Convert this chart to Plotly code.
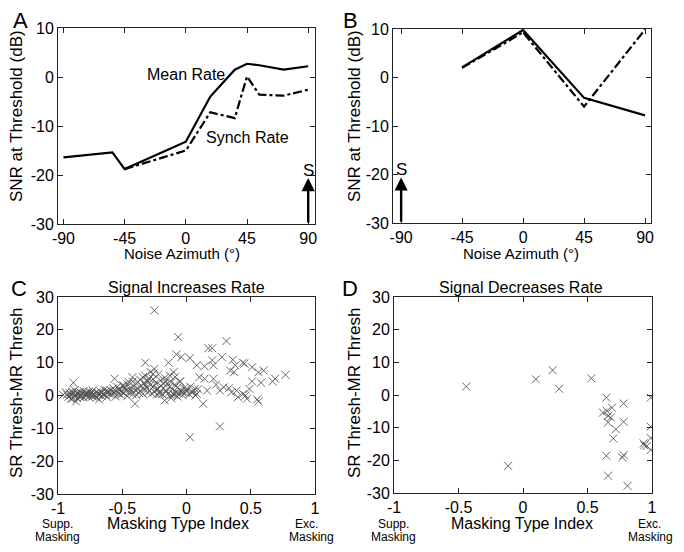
import plotly.graph_objects as go

# The page adds an 8px body margin, so the figure is drawn slightly smaller and
# all pixel positions (measured on the 684x552 reference) are shifted by OFF.
OFF = 8
W, H = 684 - 2 * OFF, 552 - 2 * OFF

# ---------------- Data ----------------
# Panel A (Signal at +90 deg)
a_mr_az = [-90, -54, -45, 0, 18, 36, 45, 54, 72, 90]
a_mr_snr = [-16.4, -15.4, -18.8, -13.2, -4.0, 1.5, 2.7, 2.4, 1.5, 2.2]
a_sr_az = [-45, 0, 18, 36, 45, 54, 72, 90]
a_sr_snr = [-18.8, -15.0, -7.2, -8.4, 0.1, -3.6, -3.8, -2.6]

# Panel B (Signal at -90 deg)
b_mr_az = [-45, 0, 45, 90]
b_mr_snr = [2.1, 9.8, -4.2, -7.8]
b_sr_az = [-45, 0, 45, 90]
b_sr_snr = [2.0, 9.3, -6.0, 9.9]

# Panel C: Signal increases rate (masking type index, SR thresh - MR thresh)
c_mti = [
    -0.93, -0.92, -0.91, -0.90, -0.89, -0.89, -0.88, -0.87, -0.87, -0.86, -0.85, -0.85,
    -0.84, -0.83, -0.83, -0.82, -0.81, -0.80, -0.80, -0.79, -0.78, -0.78, -0.77, -0.76,
    -0.76, -0.75, -0.74, -0.73, -0.73, -0.72, -0.71, -0.70, -0.70, -0.69, -0.68, -0.67,
    -0.66, -0.66, -0.65, -0.64, -0.63, -0.62, -0.62, -0.61, -0.60,
    -0.59, -0.58, -0.57, -0.56, -0.55, -0.55, -0.54, -0.53, -0.52, -0.51, -0.50, -0.50,
    -0.49, -0.48, -0.47, -0.46, -0.46, -0.45, -0.44, -0.43, -0.42, -0.42, -0.41, -0.40,
    -0.39, -0.39, -0.38, -0.37, -0.36, -0.36, -0.35, -0.34, -0.33, -0.33, -0.32, -0.31,
    -0.30, -0.30, -0.29, -0.28, -0.28, -0.27, -0.26, -0.26, -0.25, -0.24, -0.23, -0.23,
    -0.22, -0.21, -0.20, -0.20, -0.19, -0.18, -0.17, -0.16, -0.15, -0.14, -0.13, -0.12,
    -0.12, -0.11, -0.10, -0.09, -0.08, -0.07, -0.07, -0.06, -0.05, -0.04, -0.03, -0.02,
    -0.01, 0.00, 0.02, 0.03, 0.05, 0.07, 0.09,
    -0.25, -0.065, -0.078, -0.04, 0.31, 0.17, 0.20, 0.275, 0.026, -0.32, -0.14, -0.25,
    0.08, 0.14, 0.20, 0.21, 0.36, 0.38, 0.44, 0.45, 0.51, 0.34, 0.37, 0.56,
    0.60, 0.69, 0.77, 0.67, 0.58, 0.51, 0.49, 0.39, 0.44, 0.46, 0.47, 0.40,
    0.55, 0.56, 0.13, 0.26, 0.026, 0.14, 0.21, 0.23, 0.29, 0.33, 0.35, 0.26,
    0.16, 0.10, 0.065, 0.00, -0.03, 0.04, 0.08, -0.05, -0.10, -0.16, -0.21, -0.17,
    -0.12, -0.22, -0.10, -0.13, -0.09, -0.05, -0.16, -0.18, -0.26, -0.29, -0.34, -0.38,
    -0.42, -0.32, -0.40, -0.45, -0.56, -0.49, -0.52, -0.57, -0.62, -0.68, -0.68, -0.73,
    -0.78, -0.83, -0.88, -0.90, -0.86, -0.96, -0.94,
]
c_diff = [
    0.3, -0.4, 0.8, 0.1, 1.2, -1.0, 0.5, -0.3, 1.6, 0.2, -0.8, 0.9,
    0.4, -0.2, 1.1, 0.0, 0.7, -0.6, 1.4, 0.3, -0.1, 0.9, 0.5, -0.4,
    1.2, 0.2, 0.8, -0.3, 1.5, 0.4, 0.0, 1.0, -0.7, 0.6, 0.2, 1.3,
    -0.2, 0.8, 0.4, 1.8, 0.1, 0.9, -0.5, 1.2, 0.5,
    1.6, 0.3, 2.2, 0.8, -0.3, 1.4, 2.6, 0.6, 1.9, 0.2, 1.1, 3.0,
    0.7, 2.3, 1.5, -0.2, 3.4, 0.9, 2.0, 1.2, 4.2, 0.4, 2.8, 1.6,
    0.2, 3.6, 2.1, 0.8, 4.8, 1.4, 2.9, 0.5, 3.9, 1.8, 6.0, 2.4,
    0.9, 4.4, 1.5, 3.2, 7.2, 0.6, 2.6, 5.0, 1.2, 3.8, 0.3, 2.0,
    6.4, 1.0, 3.0, 4.6, 0.4, 2.2, 5.4, 1.4, 3.6, 0.7, 2.7, -0.8,
    4.0, 1.8, 0.2, 3.3, 1.0, -0.3, 2.4, 0.6, 4.2, 1.3, 0.1, 2.2,
    0.8, 1.6, 0.4, 2.7, 1.1, 0.0, 1.9,
    25.9, 17.8, 12.5, 11.7, 16.6, 14.4, 14.4, 11.7, 11.4, 10.0, 10.0, 8.1,
    9.2, 8.9, 10.7, 9.2, 10.9, 9.2, 10.0, 9.7, 8.6, 7.6, 7.1, 7.1,
    7.6, 5.1, 6.3, 4.3, 3.9, 4.3, 2.0, 1.5, 0.5, 0.0, -1.0, -0.5,
    -1.2, -1.8, -2.5, -9.4, -12.7, 5.1, 5.1, 3.3, 2.5, 2.2, 1.0, 1.5,
    1.5, 5.6, 2.0, 2.0, 1.0, 1.0, 0.5, 1.5, 0.5, 1.0, 0.5, -1.5,
    0.0, 2.0, 7.1, 6.1, 5.6, 4.3, 4.3, 3.6, 6.6, 5.1, 5.6, 4.1,
    5.6, 3.1, -2.5, 4.1, 5.1, 3.1, 1.5, 1.0, 1.5, 0.5, -1.2, 0.0,
    0.5, -0.5, 3.9, -1.0, -1.8, 0.2, 1.0,
]

# Panel D: Signal decreases rate
d_mti = [-0.44, -0.115, 0.10, 0.23, 0.28, 0.53, 0.646, 0.62, 0.65, 0.66, 0.66, 0.69,
         0.68, 0.78, 0.78, 0.72, 0.70, 0.646, 0.77, 0.78, 0.66, 0.81, 0.99, 0.99,
         0.99, 0.99, 0.935, 0.96, 0.94]
d_diff = [2.6, -21.7, 4.8, 7.6, 1.9, 5.1, -0.8, -5.4, -4.9, -6.4, -8.4, -3.9,
          -6.9, -2.6, -8.2, -10.5, -13.3, -18.6, -19.1, -18.4, -24.7, -27.8, -0.8, -9.7,
          -13.2, -16.8, -14.8, -15.6, -15.4]

az_ticks = [-90, -45, 0, 45, 90]
az_ticklabels = ["-90", "-45", "0", "45", "90"]
snr_ticks = [-30, -20, -10, 0, 10]
snr_ticklabels = ["-30", "-20", "-10", "0", "10"]
mti_ticks = [-1, -0.5, 0, 0.5, 1]
mti_ticklabels = ["-1", "-0.5", "0", "0.5", "1"]
diff_ticks = [-30, -20, -10, 0, 10, 20, 30]
diff_ticklabels = ["-30", "-20", "-10", "0", "10", "20", "30"]

# ---------------- Figure ----------------
FONT = "Liberation Sans"
fig = go.Figure()

line_solid = dict(color="black", width=2.2)
line_dd = dict(color="black", width=2.2, dash="dashdot")

fig.add_trace(go.Scatter(x=a_mr_az, y=a_mr_snr, mode="lines", line=line_solid, xaxis="x", yaxis="y"))
fig.add_trace(go.Scatter(x=a_sr_az, y=a_sr_snr, mode="lines", line=line_dd, xaxis="x", yaxis="y"))
fig.add_trace(go.Scatter(x=b_mr_az, y=b_mr_snr, mode="lines", line=line_solid, xaxis="x2", yaxis="y2"))
fig.add_trace(go.Scatter(x=b_sr_az, y=b_sr_snr, mode="lines", line=line_dd, xaxis="x2", yaxis="y2"))

mk = dict(symbol="x-thin", size=8, line=dict(color="rgba(80,80,80,0.85)", width=1))
fig.add_trace(go.Scatter(x=c_mti, y=c_diff, mode="markers", marker=mk, xaxis="x3", yaxis="y3"))
fig.add_trace(go.Scatter(x=d_mti, y=d_diff, mode="markers", marker=mk, xaxis="x4", yaxis="y4"))


def px_dom_x(a, b):
    return [(a - OFF) / W, (b - OFF) / W]


def px_dom_y(top, bottom):
    return [1 - (bottom - OFF) / H, 1 - (top - OFF) / H]


axis_common = dict(
    showline=True, linecolor="#222", linewidth=1, mirror="allticks",
    ticks="inside", ticklen=5, tickcolor="#222", showgrid=False, zeroline=False,
    automargin=False,
    tickfont=dict(family=FONT, size=16, color="black"),
)

fig.update_layout(
    xaxis=dict(axis_common, domain=px_dom_x(58, 315), range=[-94, 95], tickvals=az_ticks,
               ticktext=az_ticklabels, anchor="y"),
    yaxis=dict(axis_common, domain=px_dom_y(28, 224), range=[-30, 10], tickvals=snr_ticks,
               ticktext=snr_ticklabels, anchor="x"),
    xaxis2=dict(axis_common, domain=px_dom_x(393, 651), range=[-96, 94.4], tickvals=az_ticks,
                ticktext=az_ticklabels, anchor="y2"),
    yaxis2=dict(axis_common, domain=px_dom_y(29, 223), range=[-30, 10], tickvals=snr_ticks,
                ticktext=snr_ticklabels, anchor="x2"),
    xaxis3=dict(axis_common, domain=px_dom_x(58, 315), range=[-1, 1], tickvals=mti_ticks,
                ticktext=mti_ticklabels, anchor="y3"),
    yaxis3=dict(axis_common, domain=px_dom_y(297, 494), range=[-30, 30], tickvals=diff_ticks,
                ticktext=diff_ticklabels, anchor="x3"),
    xaxis4=dict(axis_common, domain=px_dom_x(394, 652), range=[-1, 1], tickvals=mti_ticks,
                ticktext=mti_ticklabels, anchor="y4"),
    yaxis4=dict(axis_common, domain=px_dom_y(297, 493), range=[-30, 30], tickvals=diff_ticks,
                ticktext=diff_ticklabels, anchor="x4"),
    width=W, height=H, margin=dict(l=0, r=0, t=0, b=0, autoexpand=False),
    paper_bgcolor="white", plot_bgcolor="white", showlegend=False,
    font=dict(family=FONT, color="black"),
)


def ann(text, px, py, size, angle=0, xanchor="center"):
    fig.add_annotation(text=text, x=(px - OFF) / W, y=1 - (py - OFF) / H, xref="paper", yref="paper",
                       showarrow=False, xanchor=xanchor, yanchor="middle", textangle=angle,
                       font=dict(family=FONT, size=size, color="black"))


# Panel letters
ann("A", 20, 21, 22)
ann("B", 350, 21, 22)
ann("C", 19, 288, 22)
ann("D", 350, 288, 22)

# Axis titles
ann("SNR at Threshold (dB)", 16, 116, 17, angle=-90)
ann("SNR at Threshold (dB)", 354, 116, 17, angle=-90)
ann("SR Thresh-MR Thresh", 16, 393, 17, angle=-90)
ann("SR Thresh-MR Thresh", 354, 393, 17, angle=-90)
ann("Noise Azimuth (°)", 182, 254, 15)
ann("Noise Azimuth (°)", 521, 254, 15)
ann("Masking Type Index", 178, 523, 16)
ann("Masking Type Index", 522, 523, 16)

# Panel titles
ann("Signal Increases Rate", 187, 287, 16)
ann("Signal Decreases Rate", 521, 287, 16)

# Supp./Exc. masking labels
ann("Supp.", 58, 524, 12)
ann("Masking", 58, 537, 12)
ann("Exc.", 306, 524, 12)
ann("Masking", 311, 537, 12)
ann("Supp.", 393, 524, 12)
ann("Masking", 393, 537, 12)
ann("Exc.", 649, 524, 12)
ann("Masking", 650, 537, 12)

# Line labels in panel A
fig.add_annotation(text="Mean Rate", x=0, y=0.5, xref="x", yref="y", showarrow=False,
                   font=dict(family=FONT, size=16, color="black"))
fig.add_annotation(text="Synch Rate", x=45, y=-12.3, xref="x", yref="y", showarrow=False,
                   font=dict(family=FONT, size=16, color="black"))

# Signal location arrows
for xr, yr, sx in [("x", "y", 90), ("x2", "y2", -90)]:
    fig.add_annotation(x=sx, y=-20.6, ax=sx, ay=-30, xref=xr, yref=yr, axref=xr, ayref=yr,
                       showarrow=True, arrowhead=2, arrowwidth=2.4, arrowsize=1.1,
                       arrowcolor="black", text="")
    fig.add_annotation(text="S", x=sx, y=-19.0, xref=xr, yref=yr, showarrow=False,
                       font=dict(family=FONT, size=17, color="black"))

fig.write_html("out.html")
